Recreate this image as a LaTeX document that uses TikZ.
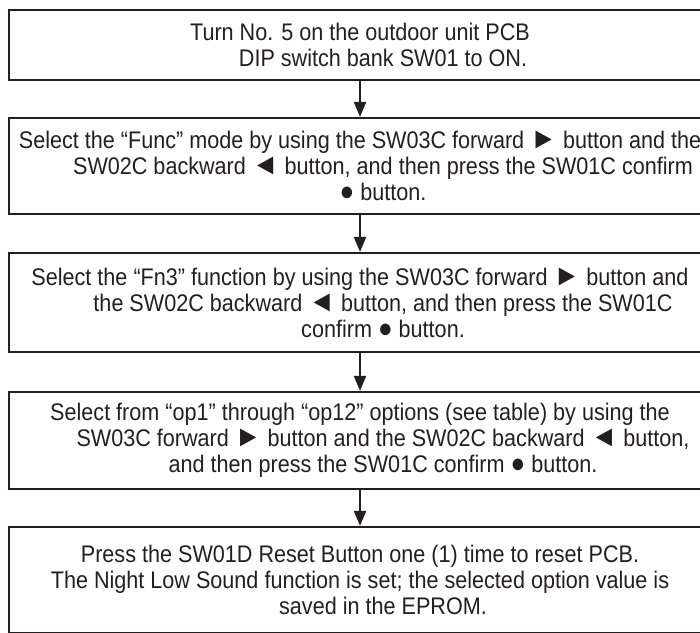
\documentclass[tikz,border=0pt]{standalone}
\usepackage{fontspec}
\setmainfont[FakeStretch=0.9]{Liberation Sans}
\usetikzlibrary{arrows.meta}
\definecolor{ink}{RGB}{35,31,32}
\newcommand{\ind}{\hspace*{46pt}}
\newcommand{\fwdbtn}{{\fontsize{30}{26}\selectfont ►}}
\newcommand{\backbtn}{{\fontsize{30}{26}\selectfont ◄}}
\newcommand{\okbtn}{{\fontsize{27}{26}\selectfont ●}}

\begin{document}
\begin{tikzpicture}[x=1pt, y=-1pt,
    stepbox/.style={draw=ink, line width=2.2pt, rectangle, minimum width=702pt,
        align=center, inner sep=0pt, text=ink, font=\fontsize{24}{26}\selectfont},
    flow/.style={-{Triangle[length=15pt, width=12pt]}, line width=2.2pt, draw=ink}]
    \useasboundingbox (0,0) rectangle (700,632);
    \clip (0,0) rectangle (700,632);

    % 步骤框
    \node[stepbox, minimum height=70pt] (s1) at (360,45)
        {Turn No. 5 on the outdoor unit PCB\\ \ind DIP switch bank SW01 to ON.};
    \node[stepbox, minimum height=96pt] (s2) at (360,166)
        {Select the “Func” mode by using the SW03C forward \fwdbtn{} button and the\\
         \ind SW02C backward \backbtn{} button, and then press the SW01C confirm\\
         \ind \okbtn{} button.};
    \node[stepbox, minimum height=99pt] (s3) at (360,302.5)
        {Select the “Fn3” function by using the SW03C forward \fwdbtn{} button and\\
         \ind the SW02C backward \backbtn{} button, and then press the SW01C\\
         \ind confirm \okbtn{} button.};
    \node[stepbox, minimum height=97pt] (s4) at (360,440.5)
        {Select from “op1” through “op12” options (see table) by using the\\
         \ind SW03C forward \fwdbtn{} button and the SW02C backward \backbtn{} button,\\
         \ind and then press the SW01C confirm \okbtn{} button.};
    \node[stepbox, minimum height=106pt] (s5) at (360,580)
        {Press the SW01D Reset Button one (1) time to reset PCB.\\
         The Night Low Sound function is set; the selected option value is\\
         \ind saved in the EPROM.};

    % 箭头
    \draw[flow] (s1) -- (s2);
    \draw[flow] (s2) -- (s3);
    \draw[flow] (s3) -- (s4);
    \draw[flow] (s4) -- (s5);
\end{tikzpicture}
\end{document}
